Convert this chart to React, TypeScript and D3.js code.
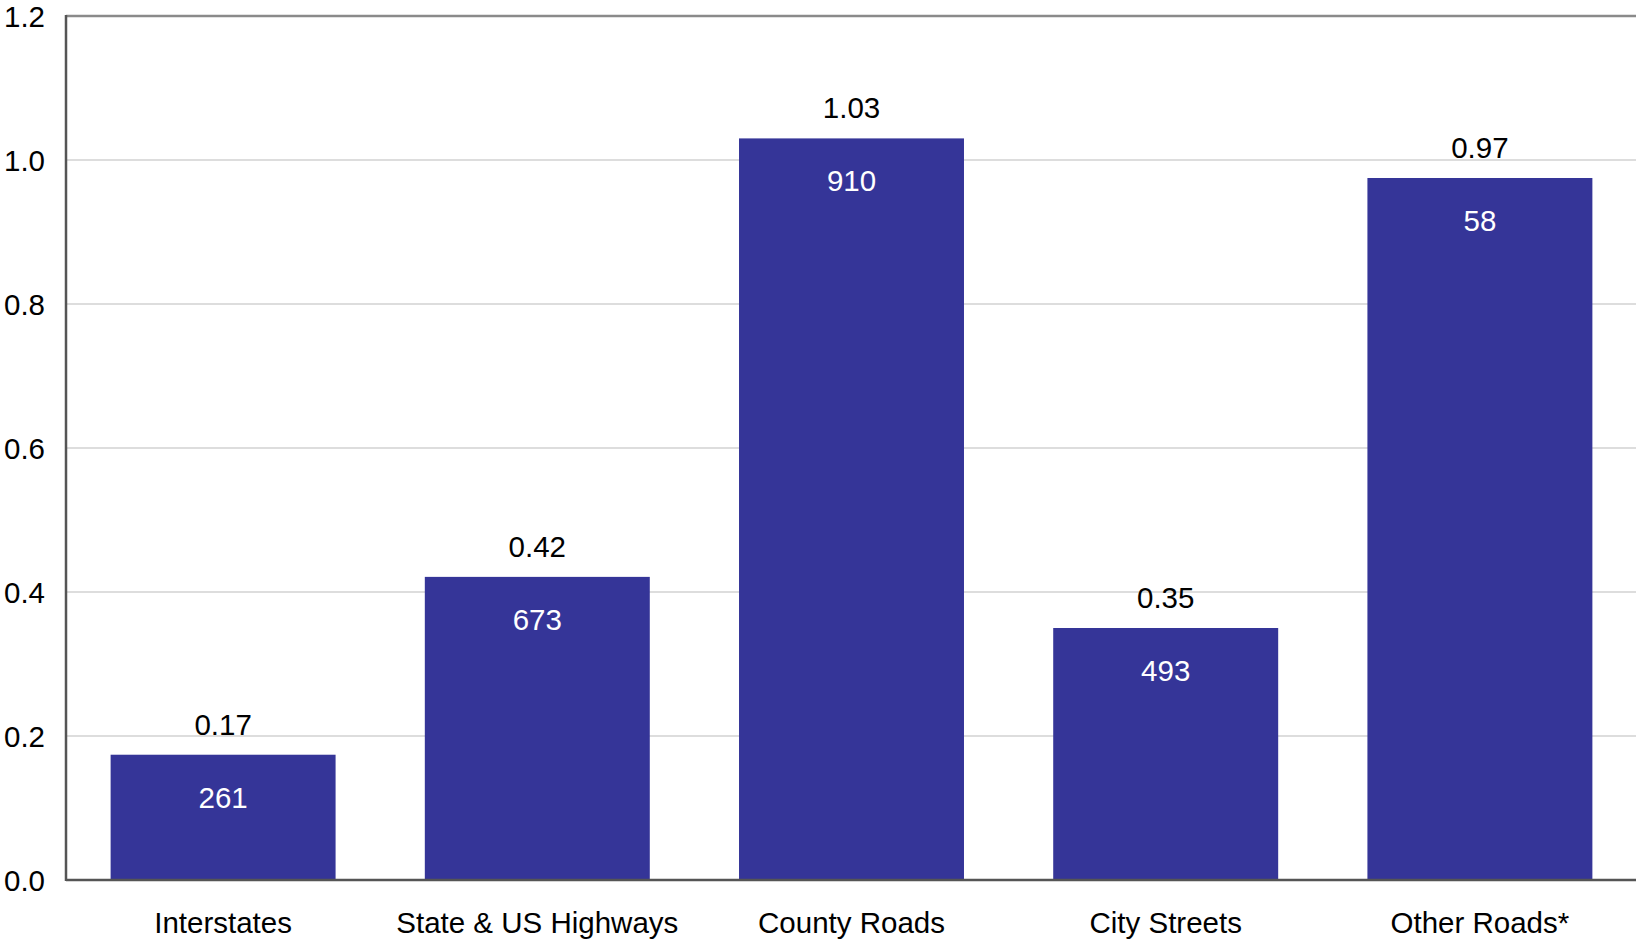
import React from "react";
import * as d3 from "d3";

const categories = ["Interstates", "State & US Highways", "County Roads", "City Streets", "Other Roads*"];
const rates = [0.174, 0.421, 1.03, 0.35, 0.975];
const rateLabels = ["0.17", "0.42", "1.03", "0.35", "0.97"];
const counts = [261, 673, 910, 493, 58];
const yTicks = [0, 0.2, 0.4, 0.6, 0.8, 1.0, 1.2];

const W = 1636;
const H = 940;
const left = 66;
const right = 1637;
const top = 16;
const bottom = 880;
const FS = 29.5;
const FONT = "'Liberation Sans', Arial, Helvetica, sans-serif";

export default function App() {
  const x = d3.scaleBand<string>().domain(categories).range([left, right]).paddingInner(0.284).paddingOuter(0.142);
  const y = d3.scaleLinear().domain([0, 1.2]).range([bottom, top]);
  const fmt = d3.format(".1f");
  return (
    <svg width={W} height={H} style={{ position: "absolute", left: 0, top: 0, background: "#fff" }} fontFamily={FONT}>
      {yTicks.map((t) => (
        <g key={t}>
          {t > 0 && t < 1.2 && (
            <line x1={left} x2={W} y1={y(t)} y2={y(t)} stroke="#bcbcbc" strokeWidth={1.2} />
          )}
          <text x={45} y={y(t)} dy="0.36em" textAnchor="end" fontSize={FS} fill="#000">
            {fmt(t)}
          </text>
        </g>
      ))}
      <line x1={left} x2={W} y1={y(1.2)} y2={y(1.2)} stroke="#8a8a8a" strokeWidth={2.5} />
      {categories.map((c, i) => {
        const bx = x(c)!;
        const bw = x.bandwidth();
        const cx = bx + bw / 2;
        return (
          <g key={c}>
            <rect x={bx} y={y(rates[i])} width={bw} height={y(0) - y(rates[i])} fill="#353598" />
            <text x={cx} y={y(rates[i]) - 20} textAnchor="middle" fontSize={FS} fill="#000">
              {rateLabels[i]}
            </text>
            <text x={cx} y={y(rates[i]) + 53} textAnchor="middle" fontSize={FS} fill="#fff">
              {counts[i]}
            </text>
            <text x={cx} y={933} textAnchor="middle" fontSize={FS} fill="#000">
              {c}
            </text>
          </g>
        );
      })}
      <line x1={left} x2={left} y1={top - 1} y2={bottom + 1} stroke="#555" strokeWidth={2.5} />
      <line x1={left} x2={W} y1={bottom} y2={bottom} stroke="#555" strokeWidth={2.5} />
    </svg>
  );
}
